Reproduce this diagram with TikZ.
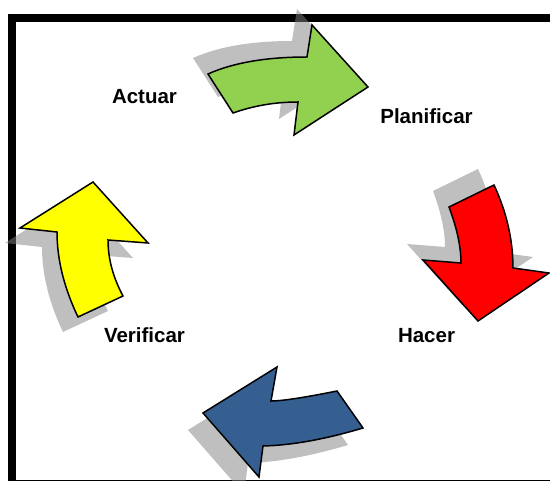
\documentclass[tikz,border=0pt]{standalone}
\usepackage{fontspec}
\setmainfont{Liberation Sans}
\definecolor{argreen}{RGB}{146,208,80}
\definecolor{arred}{RGB}{255,0,0}
\definecolor{aryellow}{RGB}{255,255,0}
\definecolor{arblue}{RGB}{54,95,145}
\newcommand{\greenarrow}{(208,74) .. controls (233.3,62.7) and (266.3,57) .. (307,57) -- (312,25) -- (368,87) -- (294,135) -- (298,102) .. controls (275.3,102) and (253.7,105.7) .. (233,113) -- cycle}
\newcommand{\redarrow}{(449,207) -- (494,185) .. controls (506.7,212.3) and (513,240) .. (513,268) -- (549,273) -- (478,321) -- (423,260) -- (461,263) .. controls (461,247) and (457,228.3) .. (449,207) -- cycle}
\newcommand{\bluearrow}{(277,367) -- (203,413) -- (259,477) -- (263,446) .. controls (291.7,445.3) and (325,439.3) .. (363,428) -- (337,391) .. controls (303.7,397.7) and (281.7,401) .. (271,401) -- cycle}
\newcommand{\yellowarrow}{(93,182) -- (148,243) -- (108,240) .. controls (108,258.7) and (113,277.3) .. (123,296) -- (78,317) .. controls (64,287.7) and (57,259.3) .. (57,232) -- (20,228) -- cycle}
\tikzset{
  shadowfill/.style={fill=black!50, fill opacity=0.5, draw=none},
  arrowshape/.style={draw=black, line width=1.5pt, line join=miter},
  lbl/.style={font=\fontsize{20.5}{24}\selectfont\bfseries, anchor=base, inner sep=0pt}
}
\begin{document}
\begin{tikzpicture}[x=1pt, y=-1pt]
\useasboundingbox (0,0) rectangle (550,481);
\clip (0,0) rectangle (550,481);
\fill[white] (0,0) rectangle (550,481);
% frame
\draw[line width=8pt] (12,18) rectangle (560,484.5);
% shadows
\fill[shadowfill, shift={(-15,-16)}] \greenarrow;
\fill[shadowfill, shift={(-16,-16)}] \redarrow;
\fill[shadowfill, shift={(-15,17)}] \bluearrow;
\fill[shadowfill, shift={(-15,15)}] \yellowarrow;
% arrows
\filldraw[arrowshape, fill=argreen] \greenarrow;
\filldraw[arrowshape, fill=arred] \redarrow;
\filldraw[arrowshape, fill=arblue] \bluearrow;
\filldraw[arrowshape, fill=aryellow] \yellowarrow;
% labels
\node[lbl] (actuar) at (144.5,104) {Actuar};
\node[lbl] (planificar) at (426.5,124) {Planificar};
\node[lbl] (verificar) at (144.5,343) {Verificar};
\node[lbl] (hacer) at (426.5,343) {Hacer};
\end{tikzpicture}
\end{document}
